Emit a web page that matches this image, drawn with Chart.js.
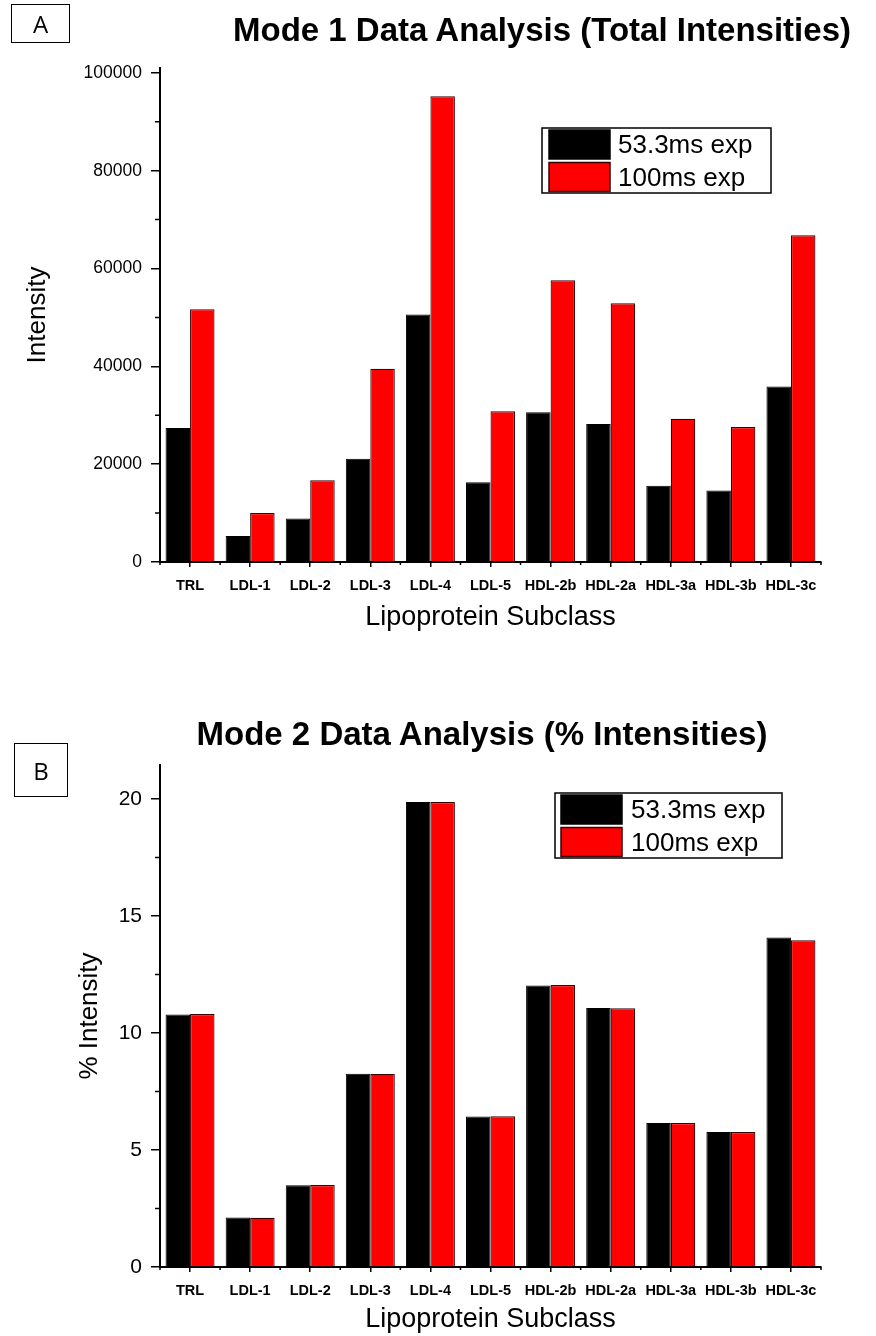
<!DOCTYPE html>
<html>
<head>
<meta charset="utf-8">
<script src="https://cdn.jsdelivr.net/npm/chart.js@4.4.1/dist/chart.umd.min.js"></script>
<style>
  html, body { margin: 0; padding: 0; background: #fff; overflow: hidden; }
  body { position: relative; width: 876px; height: 1336px; font-family: 'Liberation Sans', Arial, sans-serif; }
  canvas { position: absolute; left: 0; }
  #chartA { top: 0; }
  #chartB { top: 680px; }
  .title { position: absolute; transform: translateX(-50%); white-space: nowrap; font-weight: bold; font-size: 33px; line-height: 40px; color: #000; }
  .panel { position: absolute; box-sizing: border-box; border: 1.5px solid #000; font-size: 24px; display: flex; align-items: center; justify-content: center; font-family: 'Open Sans', 'Liberation Sans', sans-serif; }
</style>
</head>
<body>
<canvas id="chartA" width="876" height="680"></canvas>
<canvas id="chartB" width="876" height="656"></canvas>
<div class="panel" style="left:11px;top:4px;width:59px;height:39px;">A</div>
<div class="title" style="left:542px;top:10px;">Mode 1 Data Analysis (Total Intensities)</div>
<div class="panel" style="left:14px;top:743px;width:54px;height:54px;">B</div>
<div class="title" style="left:482px;top:714px;">Mode 2 Data Analysis (% Intensities)</div>
<script>
const categories = ['TRL', 'LDL-1', 'LDL-2', 'LDL-3', 'LDL-4', 'LDL-5', 'HDL-2b', 'HDL-2a', 'HDL-3a', 'HDL-3b', 'HDL-3c'];
const seriesLabels = ['53.3ms exp', '100ms exp'];

// Mode 1: total intensities
const shortExpTotal = [27400, 5300, 8900, 21100, 50600, 16300, 30600, 28200, 15600, 14600, 35900];
const longExpTotal = [51700, 10000, 16700, 39500, 95200, 30800, 57600, 52900, 29300, 27600, 66800];
const totalTicks = [0, 20000, 40000, 60000, 80000, 100000];

// Mode 2: % intensities
const shortExpPercent = [10.79, 2.11, 3.49, 8.26, 19.87, 6.43, 12.03, 11.07, 6.15, 5.77, 14.08];
const longExpPercent = [10.81, 2.10, 3.50, 8.25, 19.87, 6.44, 12.05, 11.06, 6.15, 5.77, 13.96];
const percentTicks = [0, 5, 10, 15, 20];

Chart.defaults.font.family = "'Liberation Sans', Arial, sans-serif";
Chart.defaults.color = '#000';
Chart.defaults.animation = false;

// short ticks between categories and between labelled values
const minorTicks = {
    id: 'minorTicks',
    afterDraw(chart, args, opts) {
        const { ctx } = chart;
        const x = chart.scales.x;
        const y = chart.scales.y;
        ctx.save();
        ctx.strokeStyle = '#000';
        ctx.lineWidth = 1.5;
        ctx.beginPath();
        for (let i = 0; i <= categories.length; i++) {
            const px = x.getPixelForValue(i - 0.5);
            ctx.moveTo(px, x.top);
            ctx.lineTo(px, x.top + 3);
        }
        for (let v = opts.step / 2; v < y.max; v += opts.step) {
            const py = y.getPixelForValue(v);
            ctx.moveTo(y.right, py);
            ctx.lineTo(y.right - 5, py);
        }
        ctx.stroke();
        ctx.restore();
    }
};

// framed legend inside the plot area
const boxLegend = {
    id: 'boxLegend',
    afterDraw(chart, args, opts) {
        const { ctx } = chart;
        ctx.save();
        ctx.lineWidth = 1.5;
        ctx.strokeStyle = '#000';
        ctx.strokeRect(opts.x, opts.y, opts.w, opts.h);
        ctx.font = "26px 'Liberation Sans', Arial, sans-serif";
        ctx.textBaseline = 'middle';
        chart.data.datasets.forEach((ds, i) => {
            const top = opts.y + 2 + i * 32.5;
            ctx.fillStyle = ds.backgroundColor;
            ctx.fillRect(opts.swatchX, top, 61, 29);
            ctx.strokeStyle = ds.borderColor;
            ctx.strokeRect(opts.swatchX, top, 61, 29);
            ctx.fillStyle = '#000';
            ctx.fillText(ds.label, opts.textX, top + 16);
        });
        ctx.restore();
    }
};

function makeChart(canvasId, shortData, longData, cfg) {
    return new Chart(document.getElementById(canvasId), {
        type: 'bar',
        data: {
            labels: categories,
            datasets: [
                { label: seriesLabels[0], data: shortData, backgroundColor: '#000000', borderColor: '#000000', borderWidth: 1 },
                { label: seriesLabels[1], data: longData, backgroundColor: '#ff0000', borderColor: '#3a0000', borderWidth: 1.2 }
            ]
        },
        options: {
            responsive: false,
            devicePixelRatio: 1,
            categoryPercentage: 0.815,
            barPercentage: 1.0,
            layout: { padding: { top: cfg.padTop, right: 55, bottom: 0, left: 0 } },
            plugins: {
                legend: { display: false },
                title: { display: false },
                tooltip: { enabled: false },
                minorTicks: { step: cfg.ticks[1] },
                boxLegend: cfg.legend
            },
            scales: {
                x: {
                    grid: { display: true, drawOnChartArea: false, drawTicks: true, tickLength: 5, offset: false, color: '#000', lineWidth: 1.5 },
                    border: { display: true, color: '#000', width: 2 },
                    ticks: { font: { size: 14.5, weight: 'bold' }, maxRotation: 0, minRotation: 0, autoSkip: false, padding: 10 },
                    title: { display: true, text: 'Lipoprotein Subclass', font: { size: 27 }, padding: { top: 0, bottom: cfg.xTitlePad } },
                    afterFit(scale) { scale.height = cfg.xHeight; }
                },
                y: {
                    min: 0,
                    max: cfg.max,
                    grid: { display: true, drawOnChartArea: false, drawTicks: true, tickLength: 9, color: '#000', lineWidth: 1.5 },
                    border: { display: true, color: '#000', width: 2 },
                    ticks: { font: { size: cfg.tickSize }, padding: 9, callback: v => String(v) },
                    afterBuildTicks(scale) { scale.ticks = cfg.ticks.map(v => ({ value: v })); },
                    title: { display: true, text: cfg.yTitle, font: { size: 26 }, padding: { top: cfg.yTitlePad, bottom: 0 } },
                    afterFit(scale) { scale.width = 160; }
                }
            }
        },
        plugins: [minorTicks, boxLegend]
    });
}

makeChart('chartA', shortExpTotal, longExpTotal, {
    padTop: 68, xHeight: 118, max: 101000, ticks: totalTicks, tickSize: 17.5,
    yTitle: 'Intensity', yTitlePad: 22, xTitlePad: 46,
    legend: { x: 542, y: 128, w: 229, h: 65, swatchX: 549, textX: 618 }
});

makeChart('chartB', shortExpPercent, longExpPercent, {
    padTop: 85, xHeight: 69, max: 21.45, ticks: percentTicks, tickSize: 21,
    yTitle: '% Intensity', yTitlePad: 74, xTitlePad: 0,
    legend: { x: 555, y: 113, w: 227, h: 65, swatchX: 561, textX: 631 }
});
</script>
</body>
</html>
